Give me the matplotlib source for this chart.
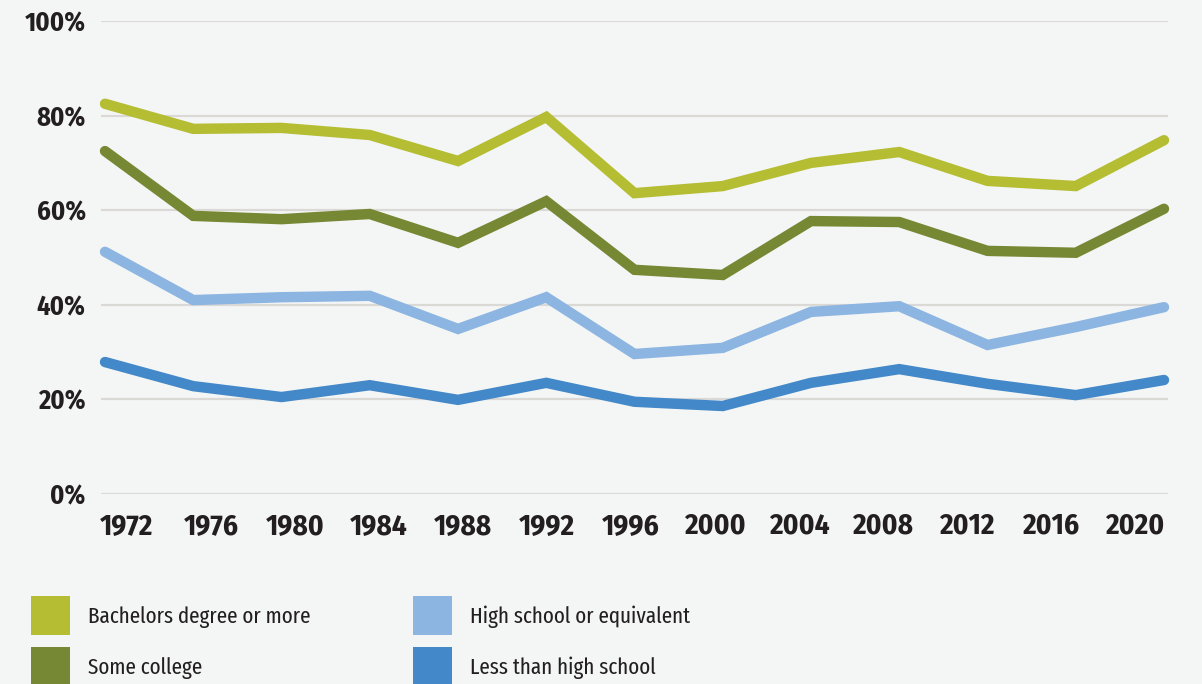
import matplotlib
matplotlib.use("Agg")
import matplotlib.pyplot as plt
from matplotlib import font_manager
from matplotlib.patches import Patch

years = [1972, 1976, 1980, 1984, 1988, 1992, 1996, 2000, 2004, 2008, 2012, 2016, 2020]
bachelors = [82.5, 77.2, 77.4, 75.9, 70.4, 79.7, 63.6, 65.1, 70.0, 72.3, 66.2, 65.1, 74.8]
some_college = [72.5, 58.8, 58.1, 59.2, 53.1, 61.9, 47.4, 46.3, 57.7, 57.5, 51.4, 51.0, 60.3]
high_school = [51.2, 41.0, 41.6, 41.9, 34.9, 41.6, 29.6, 30.9, 38.5, 39.7, 31.5, 35.3, 39.5]
less_than_hs = [27.9, 22.8, 20.5, 23.0, 19.9, 23.5, 19.5, 18.6, 23.5, 26.4, 23.3, 20.9, 24.1]
y_ticks = [0, 20, 40, 60, 80, 100]

labels = ['Bachelors degree or more', 'Some college',
          'High school or equivalent', 'Less than high school']
colors = ['#b5bd33', '#778834', '#8db5e2', '#4388c8']
series = [bachelors, some_college, high_school, less_than_hs]

# pick condensed sans faces that are installed
installed = set(f.name for f in font_manager.fontManager.ttflist)
def pick(cands):
    return next((c for c in cands if c in installed), 'DejaVu Sans')
font = pick(['Fira Sans Condensed', 'Roboto Condensed', 'IBM Plex Sans Condensed', 'Lato'])
legend_font = pick(['Fira Sans Extra Condensed', 'Fira Sans Condensed', 'Roboto Condensed'])
legend_size = 16.5 if legend_font == 'Fira Sans Extra Condensed' else 15

bg = '#f4f6f5'
ink = '#231f20'
plt.rcParams['font.family'] = [font, 'DejaVu Sans']

W, H = 1202, 684
fig = plt.figure(figsize=(W / 100, H / 100), dpi=100, facecolor=bg)
ax = fig.add_axes([101 / W, 1 - 494 / H, 1067 / W, 473 / H])
ax.set_facecolor(bg)

for v, c in zip(series, colors):
    ax.plot(years, v, color=c, linewidth=7.5, solid_capstyle='round',
            solid_joinstyle='miter', clip_on=False, zorder=3)

px_per_year = 1059 / 48
ax.set_ylim(0, 100)
ax.set_xlim(years[0] - 4 / px_per_year, years[-1] + 4 / px_per_year)
ax.set_yticks(y_ticks)
ax.set_yticklabels(['%d%%' % t for t in y_ticks], fontsize=19, fontweight='bold', color=ink)
# year labels are spread evenly a bit inside the data span
tick_pos = [years[0] + (22 + 84 * i) / px_per_year for i in range(len(years))]
ax.set_xticks(tick_pos)
ax.set_xticklabels([str(y) for y in years], fontsize=21, fontweight='bold', color=ink)
ax.tick_params(length=0)
ax.tick_params(axis='y', pad=11)
ax.tick_params(axis='x', pad=13)
ax.grid(axis='y', color='#dbd9d5', linewidth=1.6, zorder=1)
ax.set_axisbelow(True)
for s in ax.spines.values():
    s.set_visible(False)

# legend: two single-column blocks, 39px square swatches, 51px row pitch
fpx = legend_size * 100 / 72
box = 39
hh = (box - 0.245 * fpx) / (0.65 * fpx)
for col, x0 in enumerate([31, 413]):
    idx = [col * 2, col * 2 + 1]
    handles = [Patch(facecolor=colors[i], edgecolor='none') for i in idx]
    fig.legend(handles, [labels[i] for i in idx], loc='upper left',
               bbox_to_anchor=(x0 / W, 1 - 596 / H), borderpad=0, borderaxespad=0,
               frameon=False, prop={'family': [legend_font, 'DejaVu Sans'], 'size': legend_size},
               handlelength=box / fpx, handleheight=hh,
               handletextpad=18 / fpx, labelspacing=12 / fpx, labelcolor=ink)

fig.savefig('out.png', dpi=100, facecolor=bg)
